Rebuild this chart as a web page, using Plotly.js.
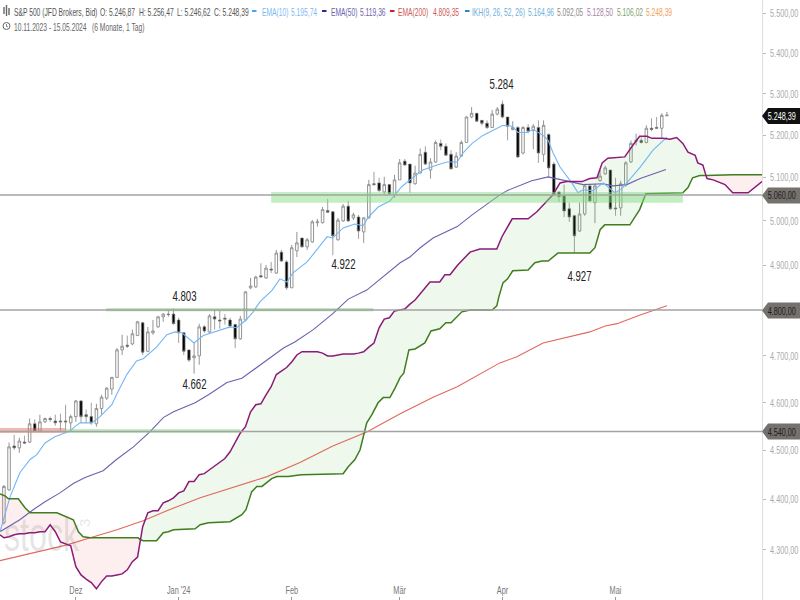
<!DOCTYPE html>
<html><head><meta charset="utf-8">
<script src="https://cdn.plot.ly/plotly-3.0.1.min.js"></script>
<style>html,body{margin:0;padding:0;background:#fff}#c{width:800px;height:600px}</style>
</head><body><div id="c"></div>
<script>
// ---------- candles (trading-day index = array position)
const opens=[4354,4420,4510,4506,4518,4518,4556,4541,4560,4567,4562,4562,4562,4558,4571,4604,4575,4571,4556,4588,4610,4629,4654,4713,4723,4726,4744,4772,4710,4750,4763,4785,4791,4791,4778,4750,4713,4696,4700,4763,4752,4785,4778,4782,4778,4768,4737,4778,4849,4851,4876,4871,4891,4882,4929,4907,4849,4932,4961,4941,4952,4996,4996,5024,5021,4957,5000,5034,5007,5009,4975,5007,5086,5088,5067,5084,5060,5095,5139,5132,5086,5111,5160,5118,5137,5181,5174,5155,5125,5151,5183,5244,5253,5236,5229,5219,5251,5275,5244,5214,5219,5158,5219,5212,5219,5155,5202,5132,5067,5058,5028,5012,4977,5016,5081,5042,5093,5109,5118,5030,5030,5084,5137,5186,5188,5183,5217,5219,5217,5246.87];
const closes=[4427,4508,4506,4520,4516,4556,4541,4560,4567,4565,4558,4560,4560,4571,4604,4571,4571,4558,4588,4612,4631,4654,4713,4721,4721,4748,4774,4708,4752,4754,4785,4791,4790,4770,4750,4710,4691,4700,4763,4754,4787,4780,4776,4780,4765,4737,4780,4840,4853,4873,4873,4893,4889,4927,4909,4849,4939,4950,4941,4957,4998,4998,5026,5020,4966,5002,5034,5000,5014,4977,5007,5084,5084,5070,5084,5063,5095,5135,5130,5088,5111,5155,5132,5137,5183,5174,5153,5121,5151,5183,5244,5253,5234,5229,5219,5251,5263,5244,5222,5219,5149,5219,5210,5222,5158,5224,5123,5060,5056,5023,5009,4966,5016,5081,5046,5081,5104,5123,5028,5028,5086,5135,5181,5188,5183,5217,5214,5217,5248,5248.39];
const highs=[4430,4517,4533,4527,4531,4567,4565,4575,4569,4571,4575,4577,4596,4575,4606,4606,4586,4600,4598,4617,4633,4654,4717,4746,4744,4757,4776,4774,4763,4778,4787,4793,4800,4803,4783,4752,4713,4728,4770,4767,4791,4800,4798,4791,4783,4770,4787,4842,4871,4876,4904,4900,4907,4934,4934,4911,4945,4975,4961,4961,5002,5005,5032,5051,5023,5007,5039,5046,5019,5014,5009,5095,5114,5100,5102,5084,5107,5144,5144,5132,5128,5169,5174,5146,5188,5190,5181,5165,5160,5188,5246,5268,5253,5236,5236,5261,5268,5284,5244,5234,5222,5222,5227,5227,5236,5236,5205,5137,5067,5084,5042,5014,5042,5084,5084,5086,5118,5128,5118,5100,5093,5139,5188,5204,5195,5224,5241,5244,5253,5256.47];
const lows=[4350,4418,4502,4496,4514,4516,4539,4539,4558,4560,4552,4541,4541,4539,4560,4558,4558,4554,4550,4575,4606,4617,4654,4702,4717,4723,4744,4702,4708,4746,4761,4774,4785,4768,4728,4702,4687,4662,4681,4750,4750,4757,4759,4768,4761,4717,4735,4775,4846,4849,4873,4869,4882,4880,4907,4845,4849,4918,4939,4934,4950,4987,4994,5018,4922,4955,4998,4998,5002,4959,4950,5005,5081,5067,5060,5060,5053,5095,5128,5065,5084,5111,5130,5098,5135,5165,5151,5119,5123,5149,5183,5241,5232,5224,5215,5219,5248,5241,5188,5212,5146,5155,5205,5167,5135,5137,5100,5058,5044,5009,4998,4927,4975,5012,5044,4995,5091,5107,5025,5012,5012,5079,5135,5176,5181,5181,5210,5217,5195,5246.62];

// ---------- indicator lines (index, value)
const ema10X=[-0.76,1.2,3.1,5.1,6.4,8,9.9,12.9,13.8,14.8,17.1,18.7,21,21.9,23.9,25.8,27.1,29.7,31.7,33.3,34.6,35.9,37,38.8,41.4,44,45.3,47.1,48.5,49.8,52.2,53.7,55.1,56.2,59,60.9,62.9,64,66,68.3,69.9,70.8,72.8,75.1,76.1,77.4,79,81.5,84.3,86.2,88.2,89.3,91.1,93.2,95.2,97.1,98.9,100,101.8,103,104.9,105.9,106.8,108.2,110.5,111.7,112.7,114.6,116.6,117.9,118.9,120.2,121.4,123.8,126.3,129];
const ema10Y=[4336,4406,4455,4482,4492,4516,4529,4541,4550,4558,4558,4571,4596,4617,4660,4689,4694,4719,4746,4752,4750,4739,4728,4744,4754,4763,4761,4778,4796,4818,4844,4869,4862,4882,4907,4934,4964,4961,4984,4993,4989,5007,5032,5046,5060,5079,5095,5118,5130,5137,5137,5158,5181,5200,5212,5224,5222,5207,5207,5214,5200,5188,5160,5125,5088,5065,5072,5070,5088,5074,5065,5074,5091,5125,5165,5195.74];
const ema50X=[-0.76,-0.1,3.1,5.7,8,10.9,13.5,15.8,19.3,21.9,25.2,28.4,31,33,37.2,39.8,43.4,46.3,49.2,52.4,54.4,56.6,60.2,64.1,67,70.6,77.1,79,81,83.5,88.2,91.1,93.2,96.5,97.9,102.7,105.9,107.6,110.1,112.7,116.6,118.5,121.2,123.8,126.3,128.8];
const ema50Y=[4336,4340,4360,4380,4396,4414,4433,4445,4459,4482,4508,4539,4569,4581,4600,4617,4643,4652,4675,4702,4717,4730,4757,4793,4824,4844,4905,4918,4939,4961,4987,5014,5032,5060,5070,5093,5102,5098,5091,5084,5086,5081,5084,5098,5109,5119.36];
const ema200X=[-0.76,5.7,12.3,16.8,22,27.1,31.7,38.2,45.3,51.2,57.6,64,70.6,77.1,83.5,88.2,96.5,99.8,104.9,109.6,114,117,119.3,123.8,129];
const ema200Y=[4279,4294,4310,4324,4340,4358,4378,4404,4427,4447,4476,4510,4539,4577,4612,4634,4685,4698,4728,4741,4752,4765,4770,4789,4809.35];

// ---------- Ichimoku cloud edges (index, value)
const spanAX=[-0.76,0,1,2,3,4,5,6,7,8,9,10,11,12,13,14,15,16,17,18,19,20,21,22,23,24,25,26,26.6,27,28,29,30,31,32,33,34,35,36,37,38,39,40,41,42,43,44,45,46,47,48,49,50,51,52,53,54,55,56,57,58,60,61,62,63,64,65,66,67,68,69,70,71,72,73,74,75,76,77,78,79,80,82.9,84.8,85.8,86.8,88.3,90.7,92.6,95.9,96.9,98.9,102,103.7,105.9,106.8,108.2,109.5,112.5,114,115.4,116.4,117.5,120.8,122.4,123.7,125.1,126.1,128.2,129.6,130.9,132.1,133.1,134.5,135,136,136.6,136.8,138,140.3,141.8,144.8,147.5];
const spanAY=[4330,4324,4326,4330,4332,4332,4334,4334,4336,4336,4350,4336,4316,4312,4308,4267,4251,4243,4236,4224,4238,4249,4249,4251,4253,4261,4277,4286,4320,4346,4374,4378,4378,4394,4398,4404,4414,4418,4437,4437,4451,4453,4461,4469,4476,4484,4498,4519,4537,4550,4581,4596,4598,4617,4634,4660,4668,4675,4687,4702,4709,4709,4709,4706,4700,4700,4702,4704,4704,4704,4706,4709,4719,4728,4761,4780,4783,4798,4800,4802,4813,4822,4862,4862,4878,4878,4900,4929,4936,4936,4964,5005,5005,5021,5049,5060,5088,5091,5091,5098,5100,5135,5146,5149,5177,5198,5198,5193,5193,5191,5195,5181,5160,5153,5135,5130,5105,5098,5095,5084,5065,5065,5091];
const spanBX=[-0.76,0.2,0.9,2.8,4.1,5.1,10.3,12.2,13.5,14.5,15.4,16.8,26.1,26.6,27.1,29.7,31,32,33,37.2,38.2,39.8,44,46.3,47.1,48.2,49.2,50.2,52.1,53.1,55.3,57.9,66,67,68.3,69.3,70.6,71.6,72.8,73.8,75.1,76.1,77.1,77.8,78.8,80,81.9,83.1,84.8,86,87,89.1,90.7,95,95.9,96.3,97.1,98,99,102,103.3,104.7,105.9,107.8,114,115,116,116.9,121.8,123.7,124.9,132.1,133.1,134,135.4,136.6,141.8,147.5];
const spanBY=[4412,4408,4402,4402,4384,4374,4374,4366,4360,4336,4326,4324,4324,4320,4318,4318,4334,4336,4340,4342,4350,4354,4356,4370,4380,4416,4427,4427,4443,4447,4447,4451,4453,4467,4482,4502,4558,4575,4600,4611,4611,4631,4654,4663,4713,4715,4728,4754,4759,4772,4772,4796,4800,4800,4809,4829,4860,4869,4887,4889,4905,4909,4909,4927,4927,4939,4980,4991,4991,5026,5063,5065,5077,5100,5105,5105,5107,5107];
const cloudCross=[26.6,136.6];

// ---------- horizontal levels and zones
const levels=[5060,4800,4540];
const levelText=["5.060,00","4.800,00","4.540,00"];
const zoneLow=[5042,4797,4537,4537], zoneHigh=[5067,4804,4547,4545];
const zoneFrom=[52,19.9,-0.76,11.9], zoneTo=[132.1,71.9,11.9,46];
const zoneColor=["#7fdc7f","#5fb85f","#e06a55","#7fdc7f"];

// ---------- labels
const peakText=["4.803","4.662","4.922","5.284","4.927"];
const peakX=[35.2,37,66,96.9,111.9];
const peakY=[4831,4640,4902,5324,4876];
const yTicks=[5500,5400,5300,5200,5100,5000,4900,4700,4600,4500,4400,4300];
const yTickText=["5.500,00","5.400,00","5.300,00","5.200,00","5.100,00","5.000,00","4.900,00","4.700,00","4.600,00","4.500,00","4.400,00","4.300,00"];
const xTicks=[14,34,56,77,97,119];
const xTickText=["Dez","Jan '24","Feb","Mär","Apr","Mai"];
const lastClose="5.248,39";

const SANS='"Liberation Sans",Arial,sans-serif';
const W=762,H=600;
const px=v=>v/W, py=v=>1-v/H;

const idx=opens.map((_,i)=>i);
const traces=[];
// cloud fills
function poly(a,b,color){
  const ax=[],ay=[],bx=[],by=[];
  spanAX.forEach((v,i)=>{if(v>=a&&v<=b){ax.push(v);ay.push(spanAY[i]);}});
  spanBX.forEach((v,i)=>{if(v>=a&&v<=b){bx.push(v);by.push(spanBY[i]);}});
  traces.push({type:'scatter',mode:'none',x:ax.concat(bx.reverse()),y:ay.concat(by.reverse()),fill:'toself',fillcolor:color,hoverinfo:'skip',showlegend:false});
}
poly(-1,cloudCross[0],'rgba(240,120,120,0.12)');
poly(cloudCross[0],cloudCross[1],'rgba(110,190,90,0.11)');
poly(cloudCross[1],200,'rgba(240,120,120,0.12)');
traces.push({type:'candlestick',x:idx,open:opens,high:highs,low:lows,close:closes,whiskerwidth:0,hoverinfo:'skip',showlegend:false,
  increasing:{line:{color:'#949494',width:1},fillcolor:'#ffffff'},
  decreasing:{line:{color:'#777777',width:0.7},fillcolor:'#000000'}});
function line(x,y,color,w){traces.push({type:'scatter',mode:'lines',x:x,y:y,line:{color:color,width:w},hoverinfo:'skip',showlegend:false});}
line(ema200X,ema200Y,'#e0695c',1.1);
line(ema50X,ema50Y,'#6a62ae',1.1);
line(ema10X,ema10Y,'#72b6f5',1.1);
line(spanBX,spanBY,'#3f7d1e',1.5);
line(spanAX,spanAY,'#8b1a78',1.5);

const shapes=[];
zoneLow.forEach((v,i)=>shapes.push({type:'rect',xref:'x',yref:'y',x0:zoneFrom[i],x1:zoneTo[i],y0:v,y1:zoneHigh[i],fillcolor:zoneColor[i],opacity:0.48,line:{width:0},layer:'above'}));
levels.forEach(v=>shapes.push({type:'line',xref:'paper',yref:'y',x0:0,x1:1,y0:v,y1:v,line:{color:'#a3a3a3',width:1.5},layer:'above'}));
function tag(y,fill){
  const p=`M ${px(762)} ${py(y)} L ${px(768)} ${py(y-8)} L ${px(800)} ${py(y-8)} L ${px(800)} ${py(y+8)} L ${px(768)} ${py(y+8)} Z`;
  shapes.push({type:'path',xref:'paper',yref:'paper',path:p,fillcolor:fill,line:{width:0},layer:'above'});
}
[195.5,310.5,431.5].forEach(y=>tag(y,'#75716d'));
tag(116,'#111111');
[[252,'#4da3ef'],[322,'#2c2c86'],[390,'#c0262c'],[465,'#2a86c8']].forEach(m=>shapes.push({type:'rect',xref:'paper',yref:'paper',x0:px(m[0]),x1:px(m[0]+4.5),y0:py(10),y1:py(12),fillcolor:m[1],line:{width:0},layer:'above'}));
[[4,7,14],[6.5,5,16],[9,8,15]].forEach(m=>shapes.push({type:'line',xref:'paper',yref:'paper',x0:px(m[0]),x1:px(m[0]),y0:py(m[1]),y1:py(m[2]),line:{color:'#666',width:1.4},layer:'above'}));
shapes.push({type:'circle',xref:'paper',yref:'paper',x0:px(3),x1:px(10),y0:py(22.5),y1:py(29.5),line:{color:'#666',width:1},layer:'above'});
shapes.push({type:'path',xref:'paper',yref:'paper',path:`M ${px(6.5)} ${py(24)} L ${px(6.5)} ${py(26.5)} L ${px(8)} ${py(27)}`,line:{color:'#666',width:0.8},layer:'above'});

const annotations=[], squash=[];
function txt(x,y,t,color,size,anchor,k,extra){
  annotations.push(Object.assign({xref:'paper',yref:'paper',x:px(x),y:py(y),text:t,showarrow:false,xanchor:anchor||'left',yanchor:'middle',font:{family:SANS,size:size||10.5,color:color},borderpad:0,align:'left'},extra||{}));
  squash.push({k:k||0.64,anchor:anchor||'left'});
}
// watermark
txt(3,534,'stock','rgba(120,120,120,0.20)',48,'left',0.67);
txt(84,523,'3','rgba(120,120,120,0.20)',15,'center',1,{textangle:-90});
// header
const ink='#555';
txt(13,11.5,'S&amp;P 500 (JFD Brokers, Bid)',ink);
txt(99,11.5,'O: 5.246,87',ink);
txt(138,11.5,'H: 5.256,47',ink);
txt(176,11.5,'L: 5.246,62',ink);
txt(213,11.5,'C: 5.248,39',ink);
txt(261,11.5,'EMA(10)','#7fb8f2');
txt(290,11.5,'5.195,74','#7fb8f2');
txt(330,11.5,'EMA(50)','#6a62ae');
txt(359,11.5,'5.119,36','#6a62ae');
txt(397,11.5,'EMA(200)','#cf5a55');
txt(432,11.5,'4.809,35','#cf5a55');
txt(471,11.5,'IKH(9, 26, 52, 26)','#6db0d8');
txt(527,11.5,'5.164,96','#6db0d8');
txt(556,11.5,'5.092,05','#8a8a8a');
txt(586,11.5,'5.128,50','#a981a6');
txt(616,11.5,'5.106,02','#7f9f6f');
txt(645,11.5,lastClose,'#f0a060');
txt(13,26.5,'10.11.2023 - 15.05.2024','#666');
txt(91,26.5,'(6 Monate, 1 Tag)','#666');
levelText.forEach((t,i)=>txt(797,[195.5,310.5,431.5][i],t,'#1c1c1c',10.5,'right',0.69));
txt(797,116,lastClose,'#ffffff',10.5,'right',0.69);
peakText.forEach((t,i)=>{annotations.push({xref:'x',yref:'y',x:peakX[i],y:Math.log10(peakY[i]),text:t,showarrow:false,xanchor:'center',yanchor:'middle',font:{family:SANS,size:14,color:'#222'}});squash.push({k:0.69,anchor:'center'});});

const layout={width:800,height:600,margin:{l:0,r:38,t:0,b:0,pad:0},paper_bgcolor:'#fff',plot_bgcolor:'#fff',showlegend:false,hovermode:false,
 xaxis:{type:'linear',range:[-0.76,147.5],rangeslider:{visible:false},showgrid:false,zeroline:false,showline:false,
   tickmode:'array',tickvals:xTicks,ticktext:xTickText,ticks:'inside',ticklen:3,tickcolor:'#999',ticklabelposition:'inside',
   tickfont:{family:SANS,size:10.5,color:'#777'}},
 yaxis:{type:'log',side:'right',range:[3.6235,3.74296],showgrid:false,zeroline:false,showline:true,linecolor:'#dedede',linewidth:1,
   tickmode:'array',tickvals:yTicks,ticktext:yTickText,ticks:'outside',ticklen:3,tickcolor:'#bbb',ticklabelstandoff:2,
   tickfont:{family:SANS,size:10.5,color:'#aaa'}},
 shapes:shapes,annotations:annotations};

// the reference's lettering is horizontally condensed; no narrow font is installed, so scale the real SVG text about a fixed point
function condense(t,k,fixedAtEnd){
  const x=parseFloat(t.getAttribute('x'))||0;
  const ax=fixedAtEnd?x+t.getComputedTextLength():x;
  const old=t.getAttribute('transform')||'';
  t.setAttribute('transform',`${old} translate(${ax},0) scale(${k},1) translate(${-ax},0)`);
}
Plotly.newPlot('c',traces,layout,{displayModeBar:false,staticPlot:true}).then(gd=>{
  gd.querySelectorAll('.annotation').forEach(g=>{
    const i=+g.getAttribute('data-index'), s=squash[i], t=g.querySelector('text');
    if(!t||s.k===1) return;
    condense(t,s.k,s.anchor==='right');
  });
  gd.querySelectorAll('.ytick text').forEach(t=>condense(t,0.69,false));
  gd.querySelectorAll('.xtick text').forEach(t=>condense(t,0.7,false));
});
</script></body></html>
